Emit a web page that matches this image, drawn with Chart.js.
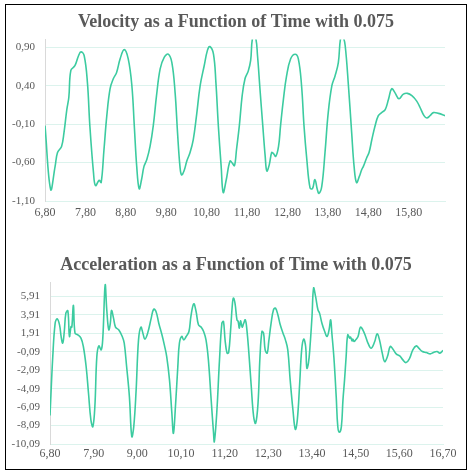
<!DOCTYPE html>
<html>
<head>
<meta charset="utf-8">
<script src="https://cdn.jsdelivr.net/npm/chart.js@4.4.0/dist/chart.umd.min.js"></script>
<style>
    html, body { margin: 0; padding: 0; background: #fff; }
    body { width: 472px; height: 476px; position: relative; overflow: hidden; }
    .frame { position: absolute; left: 5px; top: 4px; width: 462px; height: 466px; border: 1px solid #000; box-sizing: border-box; }
    .chart-wrapper { position: absolute; left: 0; width: 472px; height: 236px; }
</style>
</head>
<body>
<div class="frame"></div>
<div class="chart-wrapper" style="top:0px"><canvas id="velChart"></canvas></div>
<div class="chart-wrapper" style="top:236px"><canvas id="accChart"></canvas></div>
<script>
// ===== DATA =====
const velTime = [
    6.80, 6.94, 7.05, 7.11, 7.21, 7.27, 7.34, 7.39, 7.44, 7.54, 7.63, 7.69, 7.77, 7.85, 7.91,
    8.00, 8.05, 8.14, 8.19, 8.26, 8.33, 8.41, 8.49, 8.57, 8.66, 8.76, 8.86, 8.95,
    9.01, 9.07, 9.13, 9.19, 9.25, 9.32, 9.40, 9.48, 9.56, 9.65, 9.75, 9.85, 9.94,
    10.02, 10.08, 10.14, 10.18, 10.24, 10.31, 10.39, 10.47, 10.55, 10.64, 10.74, 10.82, 10.88, 10.97,
    11.03, 11.09, 11.16, 11.21, 11.28, 11.38, 11.44, 11.49, 11.54, 11.61, 11.68, 11.75, 11.83, 11.89, 11.94,
    12.01, 12.06, 12.12, 12.19, 12.25, 12.29, 12.35, 12.41, 12.45, 12.51, 12.58, 12.63, 12.70, 12.78, 12.88, 12.99,
    13.07, 13.15, 13.21, 13.28, 13.36, 13.42, 13.48, 13.54, 13.58, 13.65, 13.73, 13.81, 13.90, 13.98,
    14.06, 14.12, 14.18, 14.23, 14.31, 14.39, 14.45, 14.51, 14.58, 14.64, 14.68, 14.76, 14.82, 14.89, 14.97,
    15.05, 15.13, 15.22, 15.30, 15.38, 15.46, 15.56, 15.67, 15.77, 15.88,
    16.00, 16.08, 16.18, 16.25, 16.33, 16.41, 16.54, 16.70
];
const velocity = [
    -0.12, -0.95, -0.65, -0.47, -0.39, -0.21, 0.09, 0.25, 0.60, 0.66, 0.79, 0.84, 0.79, 0.44, -0.12,
    -0.73, -0.90, -0.83, -0.86, -0.43, 0.01, 0.36, 0.49, 0.57, 0.75, 0.87, 0.75, 0.40,
    -0.12, -0.65, -0.94, -0.82, -0.65, -0.56, -0.39, -0.12, 0.27, 0.62, 0.77, 0.81, 0.70,
    0.31, -0.21, -0.65, -0.76, -0.71, -0.58, -0.47, -0.30, 0.01, 0.40, 0.66, 0.86, 0.91, 0.81,
    0.44, -0.12, -0.65, -0.99, -0.84, -0.58, -0.61, -0.64, -0.43, -0.12, 0.27, 0.49, 0.59, 0.73, 1.03,
    1.03, 0.79, 0.36, -0.12, -0.52, -0.71, -0.63, -0.47, -0.48, -0.52, -0.39, -0.12, 0.22, 0.53, 0.75, 0.81,
    0.75, 0.40, -0.12, -0.56, -0.93, -0.94, -0.82, -0.95, -1.00, -0.91, -0.47, 0.05, 0.40, 0.53,
    0.70, 1.03, 1.03, 0.92, 0.40, -0.21, -0.65, -0.86, -0.78, -0.69, -0.65, -0.54, -0.47, -0.30, -0.12,
    0.01, 0.05, 0.09, 0.22, 0.36, 0.31, 0.23, 0.29, 0.30, 0.27,
    0.20, 0.12, 0.01, -0.02, 0.01, 0.05, 0.04, 0.01
];
const velTimeTicks = [6.8, 7.8, 8.8, 9.8, 10.8, 11.8, 12.8, 13.8, 14.8, 15.8];
const velTicks = [-1.1, -0.6, -0.1, 0.4, 0.9];

const accTime = [
    6.80, 6.87, 6.93, 6.98, 7.04, 7.08, 7.12, 7.16, 7.20, 7.25, 7.29, 7.33, 7.35, 7.39, 7.43, 7.50, 7.58, 7.64,
    7.71, 7.77, 7.83, 7.88, 7.93, 7.98, 8.03, 8.09, 8.13, 8.19, 8.23, 8.28, 8.32, 8.35, 8.40, 8.45, 8.53, 8.62,
    8.67, 8.73, 8.80, 8.86, 8.91, 8.97, 9.03, 9.09, 9.14, 9.19, 9.26, 9.35, 9.41, 9.47, 9.54, 9.62, 9.68, 9.74,
    9.81, 9.87, 9.91, 9.96, 10.02, 10.06, 10.12, 10.17, 10.23, 10.30, 10.35, 10.42, 10.48, 10.54, 10.61, 10.67,
    10.73, 10.79, 10.86, 10.92, 10.94, 11.00, 11.07, 11.13, 11.17, 11.21, 11.26, 11.30, 11.35, 11.39, 11.42,
    11.46, 11.51, 11.54, 11.57, 11.60, 11.64, 11.68, 11.72, 11.76, 11.81, 11.87, 11.93, 11.98, 12.04, 12.09,
    12.14, 12.18, 12.22, 12.27, 12.31, 12.37, 12.43, 12.48, 12.54, 12.60, 12.67, 12.73, 12.79, 12.85, 12.92,
    12.98, 13.03, 13.09, 13.14, 13.19, 13.24, 13.27, 13.31, 13.35, 13.40, 13.44, 13.49, 13.55, 13.59, 13.65,
    13.72, 13.78, 13.83, 13.87, 13.90, 13.95, 14.01, 14.05, 14.09, 14.14, 14.18, 14.22, 14.26, 14.30, 14.35,
    14.37, 14.41, 14.43, 14.46, 14.50, 14.56, 14.62, 14.68, 14.75, 14.81, 14.89, 14.98, 15.04, 15.10, 15.17,
    15.23, 15.30, 15.37, 15.44, 15.52, 15.61, 15.69, 15.77, 15.86, 15.94, 16.03, 16.09, 16.18, 16.28, 16.38,
    16.46, 16.55, 16.62, 16.70
];
const acceleration = [
    -7.00, -0.61, 3.01, 3.48, 2.83, 1.57, 0.84, 2.11, 4.10, 4.35, 1.57, 2.65, 2.58, 4.93, 1.93, 1.75, 1.39, 0.48,
    -1.69, -4.59, -7.48, -8.21, -6.04, -0.61, 0.55, 0.12, 1.39, 7.18, 4.46, 2.29, 3.01, 4.39, 3.56, 2.58, 2.29, 1.57,
    0.84, -1.69, -4.95, -9.29, -8.21, -4.23, 1.20, 2.58, 1.93, 1.28, 1.93, 3.56, 4.53, 4.28, 3.01, 1.75, 0.66, -0.61,
    -3.14, -6.76, -8.93, -6.04, -1.69, 0.84, 1.57, 1.20, 1.57, 2.11, 3.74, 5.11, 4.28, 2.83, 2.58, 2.11,
    1.20, -0.97, -5.31, -8.93, -9.84, -6.76, -0.97, 3.01, 3.19, 1.20, -0.24, -0.17, 2.29, 4.82, 5.73,
    5.19, 3.37, 3.19, 2.47, 3.27, 2.58, 3.01, 3.37, 2.29, -0.24, -3.86, -7.12, -7.85, -5.68, -0.61,
    2.11, 1.93, 0.12, -0.24, 1.02, 3.01, 4.46, 4.64, 3.92, 2.83, 1.93, 1.20, 0.12, -3.14, -6.40,
    -8.50, -7.48, -3.50, 0.12, 1.28, 0.48, -1.87, -1.33, 0.48, 3.74, 6.82, 5.91, 4.46, 4.10, 3.01,
    2.11, 1.57, 2.29, 3.37, 1.93, -0.61, -4.95, -8.21, -8.82, -8.21, -5.31, -3.14, -0.61, 1.75, 1.39,
    1.50, 1.10, 1.28, 1.02, 1.20, 1.57, 2.58, 2.29, 1.57, 0.84, 0.30, 1.02, 1.86, 1.20, -0.24,
    -1.15, -0.61, 0.48, 0.19, -0.32, -0.53, -0.97, -1.26, -0.79, 0.12, 0.55, 0.30, -0.06, -0.17, -0.32,
    -0.17, -0.06, -0.24, 0.05
];
const accTimeTicks = [6.8, 7.9, 9.0, 10.1, 11.2, 12.3, 13.4, 14.5, 15.6, 16.7];
const accTicks = [-10.09, -8.09, -6.09, -4.09, -2.09, -0.09, 1.91, 3.91, 5.91];

// ===== STYLE =====
const FONT = '"Liberation Serif", "Times New Roman", serif';
const TEXT_COLOR = '#595959';
const LINE_COLOR = '#3ccba0';
const GRID_COLOR = '#dcf3ed';

const commaFmt = v => Number(v).toFixed(2).replace('.', ',');

function toPoints(xs, ys) {
    return xs.map((x, i) => ({ x: x, y: ys[i] }));
}

// ===== CHART CREATOR =====
const charts = {};

function createChart(id, o) {
    const ctx = document.getElementById(id).getContext('2d');
    charts[id] = new Chart(ctx, {
        type: 'line',
        data: {
            datasets: [{
                data: toPoints(o.xs, o.ys),
                borderColor: LINE_COLOR,
                borderWidth: 1.6,
                pointRadius: 0,
                tension: 0.4,
                fill: false
            }]
        },
        options: {
            responsive: true,
            maintainAspectRatio: false,
            animation: false,
            layout: { padding: o.padding },
            plugins: {
                legend: { display: false },
                tooltip: { enabled: false },
                title: {
                    display: true,
                    text: o.title,
                    color: TEXT_COLOR,
                    font: { family: FONT, size: 18, weight: 'bold', lineHeight: 1.2 },
                    padding: o.titlePad
                }
            },
            scales: {
                x: {
                    type: 'linear',
                    min: o.xs[0],
                    max: o.xs[o.xs.length - 1],
                    afterBuildTicks: s => { s.ticks = o.xTicks.map(v => ({ value: v })); },
                    afterFit: s => { s.height = o.xHeight; },
                    grid: { display: false, drawTicks: false },
                    border: { display: true, color: GRID_COLOR, width: 1 },
                    ticks: {
                        autoSkip: false, maxRotation: 0, padding: o.xLabelPad,
                        color: TEXT_COLOR, font: { family: FONT, size: 12 },
                        callback: v => commaFmt(v)
                    }
                },
                y: {
                    min: o.yMin,
                    max: o.yMax,
                    afterBuildTicks: s => { s.ticks = o.yTicks.map(v => ({ value: v })); },
                    afterFit: s => { s.width = o.yWidth; },
                    grid: { color: GRID_COLOR, drawTicks: false },
                    border: { display: true, color: '#d9d9d9', width: 1 },
                    ticks: {
                        padding: 10,
                        color: TEXT_COLOR, font: { family: FONT, size: 11 },
                        callback: v => commaFmt(v)
                    }
                },
                // empty right-hand box, only there so the plot ends where the reference's does
                // while the title stays centred on the whole canvas
                spacer: {
                    type: 'linear',
                    position: 'right',
                    afterFit: s => { s.width = o.rightGap; },
                    grid: { display: false, drawTicks: false },
                    border: { display: false },
                    ticks: { display: false }
                }
            }
        }
    });
    return charts[id];
}

createChart('velChart', {
    title: 'Velocity as a Function of Time with 0.075',
    xs: velTime, ys: velocity,
    xTicks: velTimeTicks, yTicks: velTicks,
    yMin: -1.1, yMax: 1.0,
    padding: { top: 0, left: 0, right: 0, bottom: 13 },
    titlePad: { top: 12, bottom: 6 },
    xHeight: 22, xLabelPad: 5, yWidth: 45, rightGap: 27
});

createChart('accChart', {
    title: 'Acceleration as a Function of Time with 0.075',
    xs: accTime, ys: acceleration,
    xTicks: accTimeTicks, yTicks: accTicks,
    yMin: -10.09, yMax: 7.41,
    padding: { top: 0, left: 0, right: 0, bottom: 10 },
    titlePad: { top: 19, bottom: 6 },
    xHeight: 18, xLabelPad: 3, yWidth: 50, rightGap: 29
});
</script>
</body>
</html>
